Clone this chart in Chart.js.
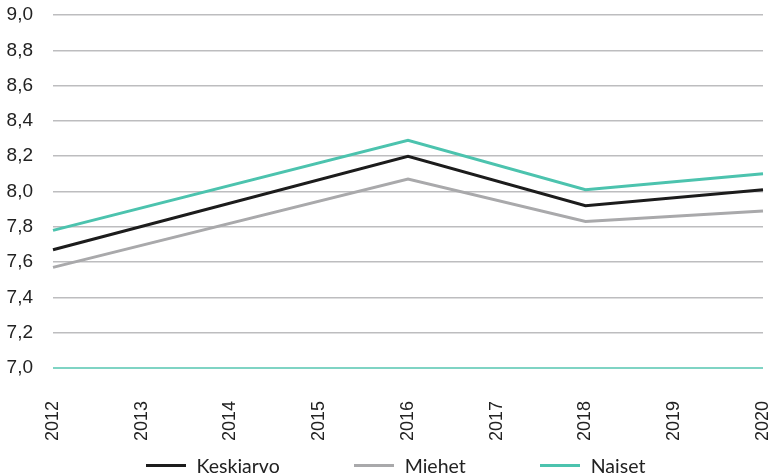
<!DOCTYPE html>
<html lang="fi">
<head>
<meta charset="utf-8">
<script src="https://cdn.jsdelivr.net/npm/chart.js@4/dist/chart.umd.min.js"></script>
<style>
  html, body { margin: 0; padding: 0; background: #fff; }
  #wrap { position: relative; width: 775px; height: 476px; }
  #legend {
    position: absolute; left: 0; top: 453px; width: 775px; height: 24px;
    display: flex; justify-content: center; align-items: center; gap: 74px;
    padding-left: 16px; box-sizing: border-box;
    font-family: Lato, "Noto Sans", sans-serif; font-size: 19.5px; color: #222;
  }
  .item { display: flex; align-items: center; }
  .swatch { width: 40px; height: 3px; margin-right: 11px; }
</style>
</head>
<body>
<div id="wrap">
  <canvas id="chart" width="775" height="476"></canvas>
  <div id="legend"></div>
</div>
<script>
const years = ['2012', '2013', '2014', '2015', '2016', '2017', '2018', '2019', '2020'];

// survey only in 2012, 2016, 2018 and 2020
const keskiarvo = [7.67, null, null, null, 8.20, null, 7.92, null, 8.01];
const miehet = [7.57, null, null, null, 8.07, null, 7.83, null, 7.89];
const naiset = [7.78, null, null, null, 8.29, null, 8.01, null, 8.10];

const seriesLabels = ['Keskiarvo', 'Miehet', 'Naiset'];
const seriesColors = ['#1c1c1c', '#a9a9ab', '#4cc3ae'];

const yMin = 7.0;
const yMax = 9.0;
const yStep = 0.2;

const datasets = [keskiarvo, miehet, naiset].map((values, i) => ({
  label: seriesLabels[i],
  data: values,
  borderColor: seriesColors[i],
  backgroundColor: seriesColors[i],
  borderWidth: 3,
  pointRadius: 0,
  tension: 0,
  spanGaps: true,
}));

const chart = new Chart(document.getElementById('chart'), {
  type: 'line',
  data: { labels: years, datasets },
  options: {
    responsive: false,
    animation: false,
    layout: { padding: { top: 15, right: 12, bottom: 33, left: 0 } },
    plugins: {
      legend: { display: false },
      tooltip: { enabled: false },
    },
    scales: {
      x: {
        grid: { display: false },
        border: { display: false },
        // keep the plot edge fixed instead of padding for the rotated labels
        afterFit: scale => {
          scale.height = 75;
          scale.paddingLeft = 0;
          scale.paddingRight = 0;
        },
        ticks: {
          color: '#222',
          font: { family: '"Liberation Sans", Arial, sans-serif', size: 18 },
          minRotation: 90,
          maxRotation: 90,
          padding: 25,
        },
      },
      y: {
        min: yMin,
        max: yMax,
        border: { display: false },
        afterFit: scale => {
          scale.width = 53;
          scale.paddingTop = 0;
          scale.paddingBottom = 0;
        },
        grid: {
          drawTicks: false,
          lineWidth: ctx => (ctx.tick && ctx.tick.value === yMin ? 2 : 1.5),
          color: ctx => (ctx.tick && ctx.tick.value === yMin ? '#7fd4c4' : '#bdbdbf'),
        },
        ticks: {
          stepSize: yStep,
          color: '#222',
          font: { family: '"Liberation Sans", Arial, sans-serif', size: 19 },
          padding: 20,
          callback: value => value.toFixed(1).replace('.', ','),
        },
      },
    },
  },
});

// legend below the chart, built from the datasets
const legendEl = document.getElementById('legend');
chart.data.datasets.forEach(ds => {
  const item = document.createElement('div');
  item.className = 'item';
  const swatch = document.createElement('span');
  swatch.className = 'swatch';
  swatch.style.background = ds.borderColor;
  const text = document.createElement('span');
  text.textContent = ds.label;
  item.appendChild(swatch);
  item.appendChild(text);
  legendEl.appendChild(item);
});
</script>
</body>
</html>
